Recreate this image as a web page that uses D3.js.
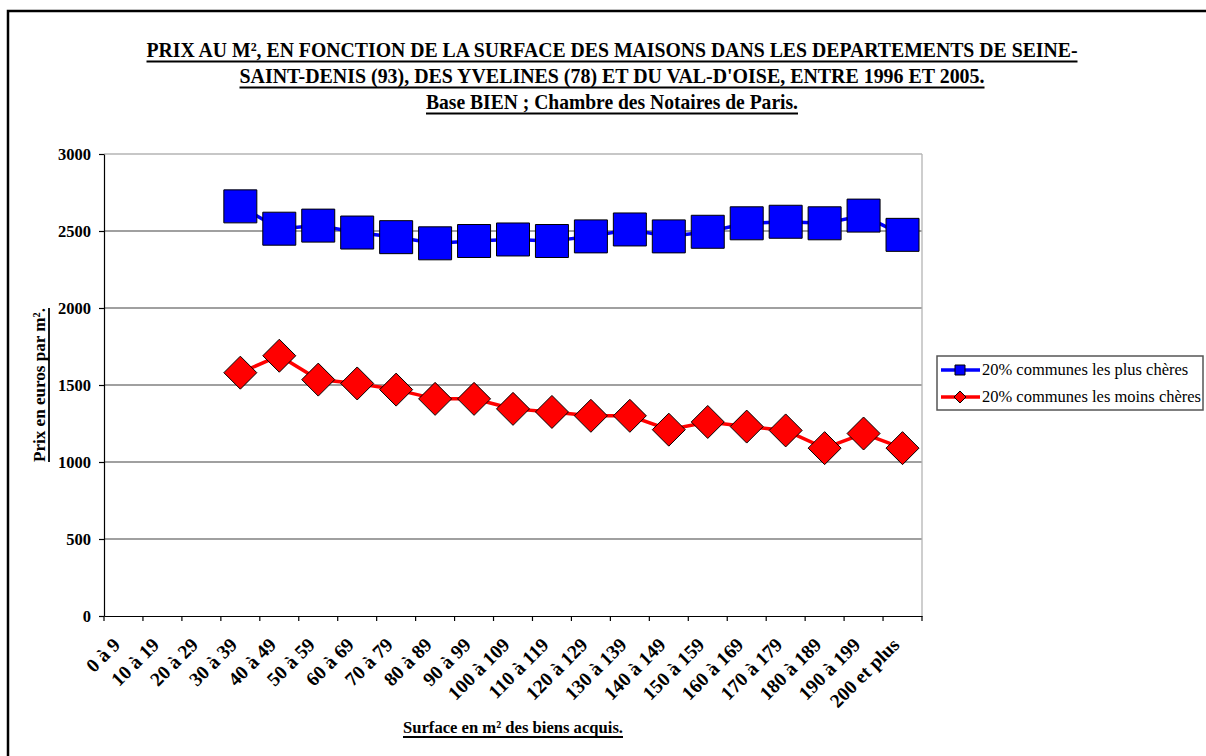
<!DOCTYPE html>
<html>
<head>
<meta charset="utf-8">
<script src="https://cdn.jsdelivr.net/npm/d3@7"></script>
<style>
    body { margin: 0; background: #ffffff; overflow: hidden; }
    svg { display: block; }
    svg text { font-family: "Liberation Serif", "Times New Roman", serif; }
</style>
</head>
<body>
<div class="chart"></div>
<script>
//Data
var categories = ["0 à 9", "10 à 19", "20 à 29", "30 à 39", "40 à 49", "50 à 59", "60 à 69",
    "70 à 79", "80 à 89", "90 à 99", "100 à 109", "110 à 119", "120 à 129", "130 à 139",
    "140 à 149", "150 à 159", "160 à 169", "170 à 179", "180 à 189", "190 à 199", "200 et plus"];
var plusCheres = [null, null, null, 2660, 2515, 2535, 2490, 2460, 2420, 2435, 2445,
    2435, 2465, 2510, 2465, 2495, 2550, 2560, 2550, 2600, 2475];
var moinsCheres = [null, null, null, 1580, 1690, 1535, 1510, 1470, 1410, 1410, 1345,
    1325, 1300, 1300, 1210, 1260, 1230, 1205, 1090, 1185, 1090];
var yTicks = [0, 500, 1000, 1500, 2000, 2500, 3000];
var seriesNames = ["20% communes les plus chères", "20% communes les moins chères"];
var titleLines = [
    "PRIX AU M², EN FONCTION DE LA SURFACE DES MAISONS DANS LES DEPARTEMENTS DE SEINE-",
    "SAINT-DENIS (93), DES YVELINES (78) ET DU VAL-D'OISE, ENTRE 1996 ET 2005.",
    "Base BIEN ; Chambre des Notaires de Paris."
];
var yTitle = "Prix en euros par m².";
var xTitle = "Surface en m² des biens acquis.";

var width = 1206, height = 756;
var plot = { left: 104, right: 922, top: 154, bottom: 616 };

var svg = d3.select(".chart").append("svg")
    .attr("width", width)
    .attr("height", height);

//Outer frame: only the top and left sides show in the picture
svg.append("path")
    .attr("d", "M8," + height + "V11H" + width)
    .attr("fill", "none")
    .attr("stroke", "#000")
    .attr("stroke-width", 2.5);

var x = d3.scaleBand().domain(categories).range([plot.left, plot.right]);
var y = d3.scaleLinear().domain([0, 3000]).range([plot.bottom, plot.top]);

//Underline helper, measures the text after it is drawn
function underline(textSel, thick, gap) {
    var b = textSel.node().getBBox();
    var ty = +textSel.attr("y");
    svg.append("line")
        .attr("x1", b.x).attr("x2", b.x + b.width)
        .attr("y1", ty + gap).attr("y2", ty + gap)
        .attr("stroke", "#000")
        .attr("stroke-width", thick);
}

//Title
var titleSpecs = [[57, 931], [83, 745], [109, 372]];
titleLines.forEach(function (t, i) {
    var txt = svg.append("text")
        .attr("x", 612)
        .attr("y", titleSpecs[i][0])
        .attr("text-anchor", "middle")
        .attr("font-size", 21.5)
        .attr("font-weight", "bold")
        .attr("textLength", titleSpecs[i][1])
        .attr("lengthAdjust", "spacingAndGlyphs")
        .text(t);
    underline(txt, 2, 4.5);
});

//Gridlines + plot frame
svg.append("g")
    .selectAll("line")
    .data(yTicks.filter(function (d) { return d > 0; }))
    .join("line")
    .attr("x1", plot.left).attr("x2", plot.right)
    .attr("y1", function (d) { return y(d); })
    .attr("y2", function (d) { return y(d); })
    .attr("stroke", function (d) { return d === 3000 ? "#b4b4b4" : "#808080"; })
    .attr("stroke-width", 1.3);
svg.append("line")
    .attr("x1", plot.right).attr("x2", plot.right)
    .attr("y1", plot.top).attr("y2", plot.bottom)
    .attr("stroke", "#b4b4b4")
    .attr("stroke-width", 1.3);

//Y axis
var yAxis = svg.append("g")
    .attr("transform", "translate(" + plot.left + ",0)")
    .call(d3.axisLeft(y).tickValues(yTicks).tickFormat(d3.format("d"))
        .tickSize(5).tickSizeOuter(0).tickPadding(8));
yAxis.selectAll("text")
    .attr("font-size", 16.5)
    .attr("font-weight", "bold")
    .attr("font-family", "Liberation Serif")
    .attr("fill", "#000");
yAxis.selectAll("line, path").attr("stroke", "#000").attr("stroke-width", 1.2);

//X axis
var xAxis = svg.append("g")
    .attr("transform", "translate(0," + plot.bottom + ")")
    .call(d3.axisBottom(x).tickSize(0).tickSizeOuter(0).tickPadding(0));
xAxis.select("path").attr("stroke", "#000").attr("stroke-width", 1.2);
xAxis.selectAll("text")
    .attr("font-size", 19.5)
    .attr("font-weight", "bold")
    .attr("font-family", "Liberation Serif")
    .attr("fill", "#000")
    .attr("text-anchor", "end")
    .attr("dy", null)
    .attr("y", 0)
    .attr("transform", "translate(-2,30) rotate(-45)");
//Tick marks between categories
var bounds = categories.map(function (c) { return x(c); }).concat([plot.right]);
xAxis.selectAll("line.bound")
    .data(bounds)
    .join("line")
    .attr("class", "bound")
    .attr("x1", function (d) { return d; }).attr("x2", function (d) { return d; })
    .attr("y1", 0).attr("y2", 5)
    .attr("stroke", "#000")
    .attr("stroke-width", 1.2);

//Axis titles
svg.append("text")
    .attr("transform", "translate(45,385) rotate(-90)")
    .attr("x", 0).attr("y", 0)
    .attr("text-anchor", "middle")
    .attr("font-size", 17.5)
    .attr("font-weight", "bold")
    .attr("textLength", 154)
    .attr("lengthAdjust", "spacingAndGlyphs")
    .text(yTitle);
svg.append("line")
    .attr("x1", 49).attr("x2", 49)
    .attr("y1", 385 - 77).attr("y2", 385 + 77)
    .attr("stroke", "#000").attr("stroke-width", 1.8);

var xt = svg.append("text")
    .attr("x", 513).attr("y", 733)
    .attr("text-anchor", "middle")
    .attr("font-size", 17.5)
    .attr("font-weight", "bold")
    .attr("textLength", 220)
    .attr("lengthAdjust", "spacingAndGlyphs")
    .text(xTitle);
underline(xt, 1.8, 4);

//Series
var series = [
    { values: plusCheres, color: "#0000ff", shape: "square" },
    { values: moinsCheres, color: "#ff0000", shape: "diamond" }
];
var line = d3.line()
    .defined(function (d) { return d != null; })
    .x(function (d, i) { return x(categories[i]) + x.bandwidth() / 2; })
    .y(function (d) { return y(d); });

function markerPath(shape, size) {
    if (shape === "square") {
        return "M" + (-size / 2) + "," + (-size / 2) + "h" + size + "v" + size + "h" + (-size) + "Z";
    }
    return "M0," + (-size / 2) + "L" + (size / 2) + ",0L0," + (size / 2) + "L" + (-size / 2) + ",0Z";
}

series.forEach(function (s) {
    svg.append("path")
        .attr("d", line(s.values))
        .attr("fill", "none")
        .attr("stroke", s.color)
        .attr("stroke-width", 3.5);
    svg.append("g")
        .selectAll("path")
        .data(s.values.map(function (v, i) { return { v: v, c: categories[i] }; })
            .filter(function (d) { return d.v != null; }))
        .join("path")
        .attr("transform", function (d) {
            return "translate(" + (x(d.c) + x.bandwidth() / 2) + "," + y(d.v) + ")";
        })
        .attr("d", markerPath(s.shape, 33))
        .attr("fill", s.color)
        .attr("stroke", "#000")
        .attr("stroke-width", 1);
});

//Legend
var legend = svg.append("g").attr("transform", "translate(937,356)");
legend.append("rect")
    .attr("width", 266).attr("height", 54)
    .attr("fill", "#fff")
    .attr("stroke", "#555")
    .attr("stroke-width", 1.5);
series.forEach(function (s, i) {
    var ly = 14 + i * 27;
    legend.append("line")
        .attr("x1", 4).attr("x2", 43)
        .attr("y1", ly).attr("y2", ly)
        .attr("stroke", s.color)
        .attr("stroke-width", 3.5);
    legend.append("path")
        .attr("transform", "translate(23," + ly + ")")
        .attr("d", markerPath(s.shape, s.shape === "square" ? 10 : 12))
        .attr("fill", s.color)
        .attr("stroke", "#000")
        .attr("stroke-width", 1);
    legend.append("text")
        .attr("x", 45).attr("y", ly + 5)
        .attr("font-size", 16.5)
        .text(seriesNames[i]);
});
</script>
</body>
</html>
